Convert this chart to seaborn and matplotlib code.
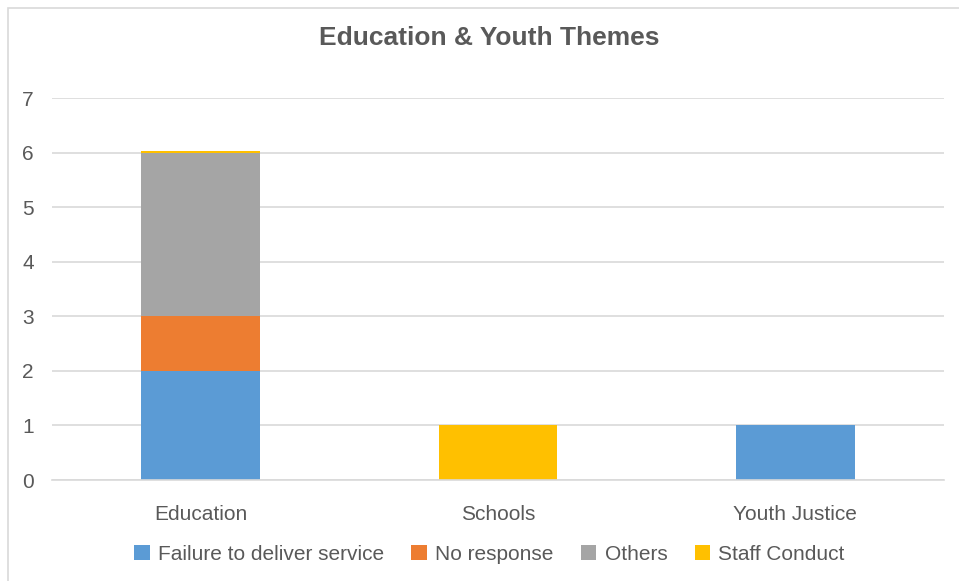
import matplotlib
matplotlib.use("Agg")
import matplotlib.pyplot as plt
from matplotlib.patches import Patch, Rectangle
import pandas as pd
import seaborn as sns

categories = ["Education", "Schools", "Youth Justice"]
failure = [2, 0, 1]
no_response = [1, 0, 0]
others = [3, 0, 0]
staff_conduct = [0.02, 1, 0]

series_names = ["Failure to deliver service", "No response", "Others", "Staff Conduct"]
colors = ["#5B9BD5", "#ED7D31", "#A5A5A5", "#FFC000"]
text_color = "#595959"

sns.set_theme(style="white")
plt.rcParams["font.family"] = ["Liberation Sans", "DejaVu Sans"]

df = pd.DataFrame({
    "category": categories,
    "failure": failure,
    "no_response": no_response,
    "others": others,
    "staff": staff_conduct,
})
# cumulative heights, drawn from the top layer down so each one covers the next
df["c1"] = df["failure"]
df["c2"] = df["c1"] + df["no_response"]
df["c3"] = df["c2"] + df["others"]
df["c4"] = df["c3"] + df["staff"]

fig = plt.figure(figsize=(9.59, 5.81), dpi=100)
ax = fig.add_axes([52 / 959, 101 / 581, 892 / 959, 382 / 581])

for col, color in zip(["c4", "c3", "c2", "c1"], colors[::-1]):
    sns.barplot(data=df, x="category", y=col, color=color, width=0.4,
                saturation=1, ax=ax, order=categories, linewidth=0)

ax.set_ylim(0, 7)
ax.set_yticks(range(0, 8))
ax.yaxis.grid(True, color="#d9d9d9", linewidth=1.2)
ax.set_axisbelow(True)
for side in ["left", "right", "top"]:
    ax.spines[side].set_visible(False)
ax.spines["bottom"].set_color("#d9d9d9")
ax.spines["bottom"].set_linewidth(1.2)
ax.tick_params(axis="both", length=0, labelsize=15, colors=text_color)
ax.tick_params(axis="x", pad=18)
ax.tick_params(axis="y", pad=13)
ax.set_xlabel("")
ax.set_ylabel("")

fig.text(489.5 / 959, 1 - 38 / 581, "Education & Youth Themes", ha="center", va="center",
         fontsize=19, fontweight="bold", color=text_color)

handles = [Patch(facecolor=c, edgecolor="none") for c in colors]
fig.legend(handles, series_names, loc="center", bbox_to_anchor=(489.5 / 959, 1 - 554 / 581),
           ncol=4, frameon=False, fontsize=15, labelcolor=text_color,
           handlelength=0.75, handleheight=0.75, handletextpad=0.4, columnspacing=1.3)

fig.patches.append(Rectangle((8 / 959, -0.01), 1, 1 - 8 / 581 + 0.01,
                             transform=fig.transFigure, fill=False,
                             edgecolor="#d9d9d9", linewidth=1.2))

plt.savefig("out.png", dpi=100)
